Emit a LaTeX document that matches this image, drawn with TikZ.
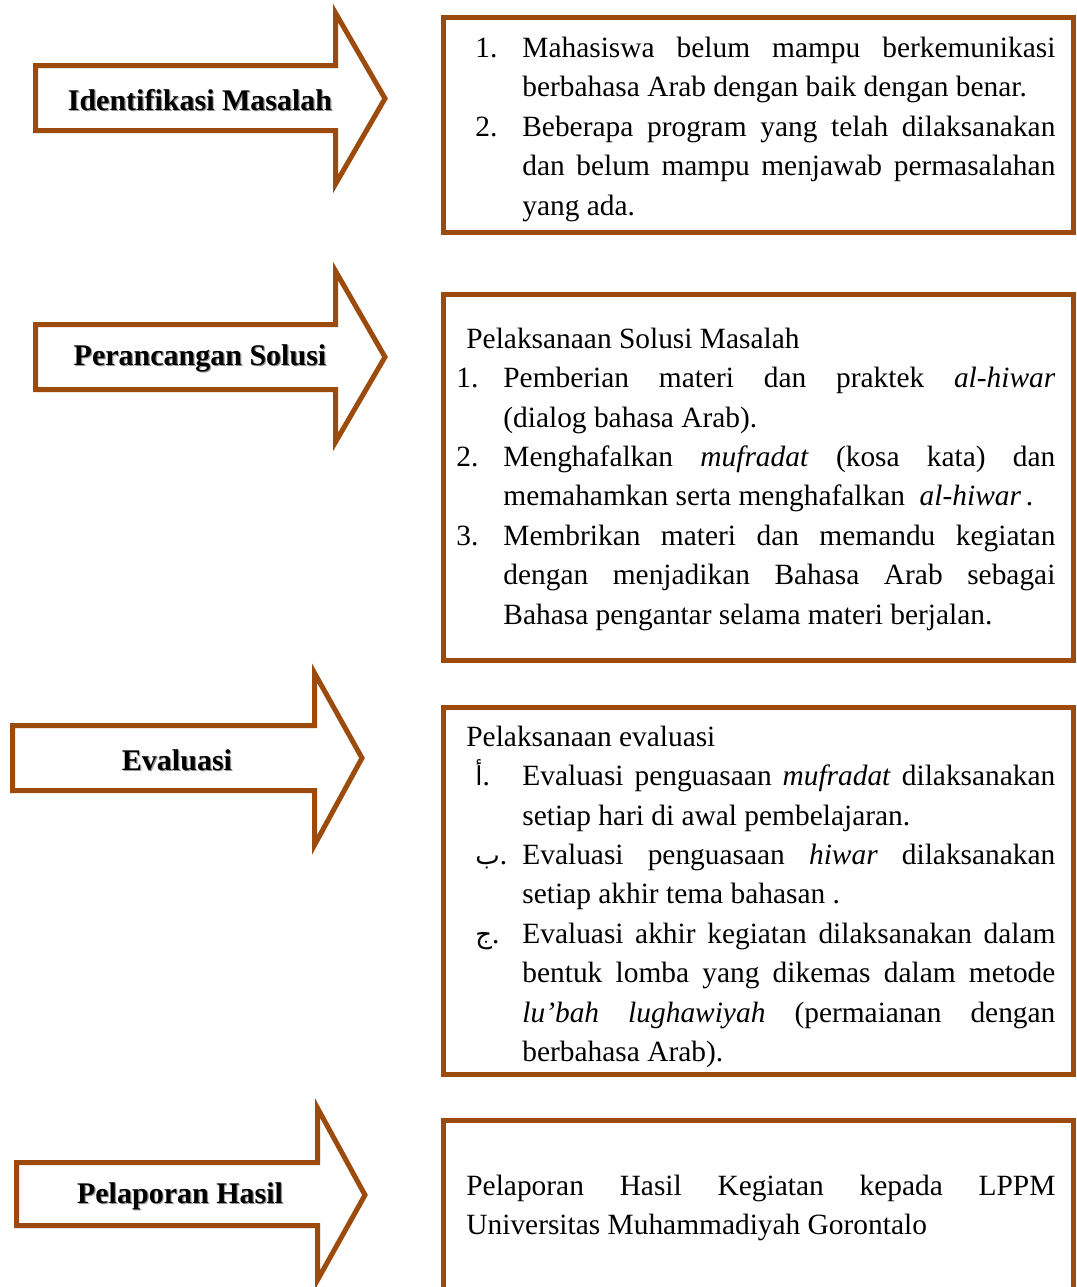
\documentclass[tikz,border=0pt]{standalone}
\usepackage{fontspec}
\setmainfont{Liberation Serif}
\newfontfamily\arabicfont[Script=Arabic]{DejaVu Sans}
\usetikzlibrary{positioning}
\definecolor{coklat}{RGB}{156,75,13}
\tikzset{
  pnh/.style={draw=coklat, line width=2.5pt, line join=miter, fill=white},
  kotak/.style={draw=coklat, line width=2.5pt, rectangle, inner sep=0pt, minimum width=315pt},
  judul/.style={font=\fontsize{15}{18}\selectfont\bfseries, text=black, inner sep=0pt},
  bayang/.style={judul, text=black!40},
  isi/.style={anchor=north west, inner sep=0pt, align=justify, font=\fontsize{14.7}{19.7}\selectfont}
}
\newcommand{\butir}[2]{\hangindent=#1\hangafter=1\noindent\makebox[#1][l]{\strut #2}\ignorespaces}
\newcommand{\huruf}[1]{\hspace*{4.5pt}{\arabicfont\fontsize{13}{16}\selectfont #1}.}

\begin{document}
\begin{tikzpicture}[x=0.5pt, y=-0.5pt]
\useasboundingbox (0,0) rectangle (1077,1287);

% panah kiri
\draw[pnh] (35.5,65.5) -- (335.5,65.5) -- (335.5,13) -- (385,98.5) -- (335.5,184) -- (335.5,130.5) -- (35.5,130.5) -- cycle;
\draw[pnh] (35.5,324.5) -- (335.5,324.5) -- (335.5,271) -- (385,357) -- (335.5,442) -- (335.5,389.5) -- (35.5,389.5) -- cycle;
\draw[pnh] (12.5,725.5) -- (314.5,725.5) -- (314.5,673) -- (362,758) -- (314.5,845) -- (314.5,790.5) -- (12.5,790.5) -- cycle;
\draw[pnh] (16.5,1162.5) -- (317.5,1162.5) -- (317.5,1108) -- (365,1195) -- (317.5,1280) -- (317.5,1225.5) -- (16.5,1225.5) -- cycle;

\node[bayang] (idfb) at (201.2,101.2) {Identifikasi Masalah};
\node[judul] (idf) at (200,100) {Identifikasi Masalah};
\node[bayang] (rcgb) at (201.2,359.2) {Perancangan Solusi};
\node[judul] (rcg) at (200,358) {Perancangan Solusi};
\node[bayang] (evlb) at (178.2,761.2) {Evaluasi};
\node[judul] (evl) at (177,760) {Evaluasi};
\node[bayang] (lprb) at (181.2,1197.2) {Pelaporan Hasil};
\node[judul] (lpr) at (180,1196) {Pelaporan Hasil};

% kotak kanan
\node[kotak, minimum height=107.5pt] (k1) at (758.5,125) {};
\node[kotak, minimum height=183pt] (k2) at (758.5,477.5) {};
\node[kotak, minimum height=183.5pt] (k3) at (758.5,891) {};
\node[kotak, minimum height=89.75pt] (k4) at (758.5,1210.25) {};

\node[isi, text width=290pt] (t1) at (475,29.5) {%
\butir{23.5pt}{1.}Mahasiswa belum mampu berkemunikasi\linebreak berbahasa Arab dengan baik dengan benar.\par
\butir{23.5pt}{2.}Beberapa program yang telah dilaksanakan\linebreak dan belum mampu menjawab permasalahan\linebreak yang ada.\par};

\node[isi, text width=299.5pt] (t2) at (456,320.4) {%
\noindent\strut\hspace*{5pt}Pelaksanaan Solusi Masalah\par
\butir{23.5pt}{1.}Pemberian materi dan praktek \textit{al-hiwar}\linebreak (dialog bahasa Arab).\par
\butir{23.5pt}{2.}Menghafalkan \textit{mufradat} (kosa kata) dan\linebreak memahamkan serta menghafalkan \ \textit{al-hiwar}\,.\par
\butir{23.5pt}{3.}Membrikan materi dan memandu kegiatan\linebreak dengan menjadikan Bahasa Arab sebagai\linebreak Bahasa pengantar selama materi berjalan.\par};

\node[isi, text width=294.5pt] (t3) at (466,718.4) {%
\noindent\strut Pelaksanaan evaluasi\par
\butir{28pt}{\huruf{أ}}Evaluasi penguasaan \textit{mufradat} dilaksanakan\linebreak setiap hari di awal pembelajaran.\par
\butir{28pt}{\huruf{ب}}Evaluasi penguasaan \textit{hiwar} dilaksanakan\linebreak setiap akhir tema bahasan .\par
\butir{28pt}{\huruf{ج}}Evaluasi akhir kegiatan dilaksanakan dalam\linebreak bentuk lomba yang dikemas dalam metode\linebreak \textit{lu’bah lughawiyah} (permaianan dengan\linebreak berbahasa Arab).\par};

\node[isi, text width=294.5pt] (t4) at (466,1167.4) {%
\noindent\strut Pelaporan Hasil Kegiatan kepada LPPM\linebreak Universitas Muhammadiyah Gorontalo\par};
\end{tikzpicture}
\end{document}
